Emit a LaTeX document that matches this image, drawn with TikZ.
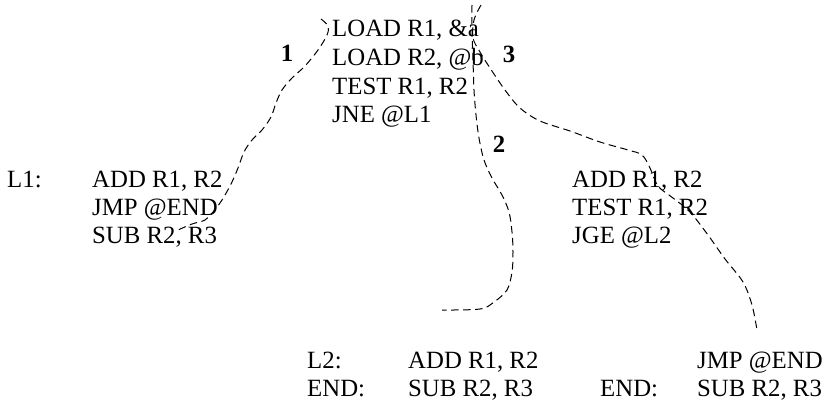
\documentclass[tikz,border=0pt]{standalone}
\usepackage{fontspec}
\setmainfont{Liberation Serif}
\begin{document}
\begin{tikzpicture}[x=1pt,y=-1pt,
  txt/.style={inner sep=0pt, anchor=base west, font=\fontsize{24.8}{28}\selectfont},
  num/.style={inner sep=0pt, anchor=base, font=\fontsize{24.8}{28}\selectfont\bfseries},
  trace/.style={dash pattern=on 7.5pt off 4.5pt, line width=1pt}]
\useasboundingbox (0,0) rectangle (825,400);
% top block
\node[txt] (a1) at (332,36) {LOAD R1, \&a};
\node[txt] (a2) at (332,65) {LOAD R2, @b};
\node[txt] (a3) at (332,94) {TEST R1, R2};
\node[txt] (a4) at (332,122) {JNE @L1};
% L1 block
\node[txt] (l1) at (7,187) {L1:};
\node[txt] (b1) at (92,187) {ADD R1, R2};
\node[txt] (b2) at (92,215) {JMP @END};
\node[txt] (b3) at (92,243) {SUB R2, R3};
% middle right block
\node[txt] (c1) at (572,187) {ADD R1, R2};
\node[txt] (c2) at (572,215) {TEST R1, R2};
\node[txt] (c3) at (572,243) {JGE @L2};
% bottom middle
\node[txt] (l2) at (307,368) {L2:};
\node[txt] (d1) at (408,368) {ADD R1, R2};
\node[txt] (e1) at (307,396) {END:};
\node[txt] (d2) at (408,396) {SUB R2, R3};
% bottom right
\node[txt] (f1) at (697,368) {JMP @END};
\node[txt] (e2) at (600,396) {END:};
\node[txt] (f2) at (697,396) {SUB R2, R3};
% numbers
\node[num] (n1) at (287,61) {1};
\node[num] (n3) at (509,62) {3};
\node[num] (n2) at (499,152) {2};
% path 1
\draw[trace] plot[smooth, tension=0.55] coordinates {(321,19) (328,26) (327,35) (318,50) (305,66) (292,78) (282,90) (276,103) (271,117) (262,130) (252,140) (244,152) (238,168) (231,184) (222,200) (213,212) (205,220) (192,224) (178,230)};
% path 2
\draw[trace] plot[smooth, tension=0.55] coordinates {(472,5) (472,30) (473,60) (474,90) (476,115) (479,138) (484,160) (492,178) (502,195) (509,212) (512,232) (513,252) (512,272) (507,290) (494,302) (480,309) (442,310)};
% path 3
\draw[trace] plot[smooth, tension=0.55] coordinates {(481,5) (474,20) (473,38) (480,52) (490,68) (505,90) (520,108) (540,121) (570,131) (600,142) (628,150) (642,155) (650,168) (658,186) (673,198) (690,212) (708,235) (725,259) (743,282) (752,305) (757,330)};
\end{tikzpicture}
\end{document}
